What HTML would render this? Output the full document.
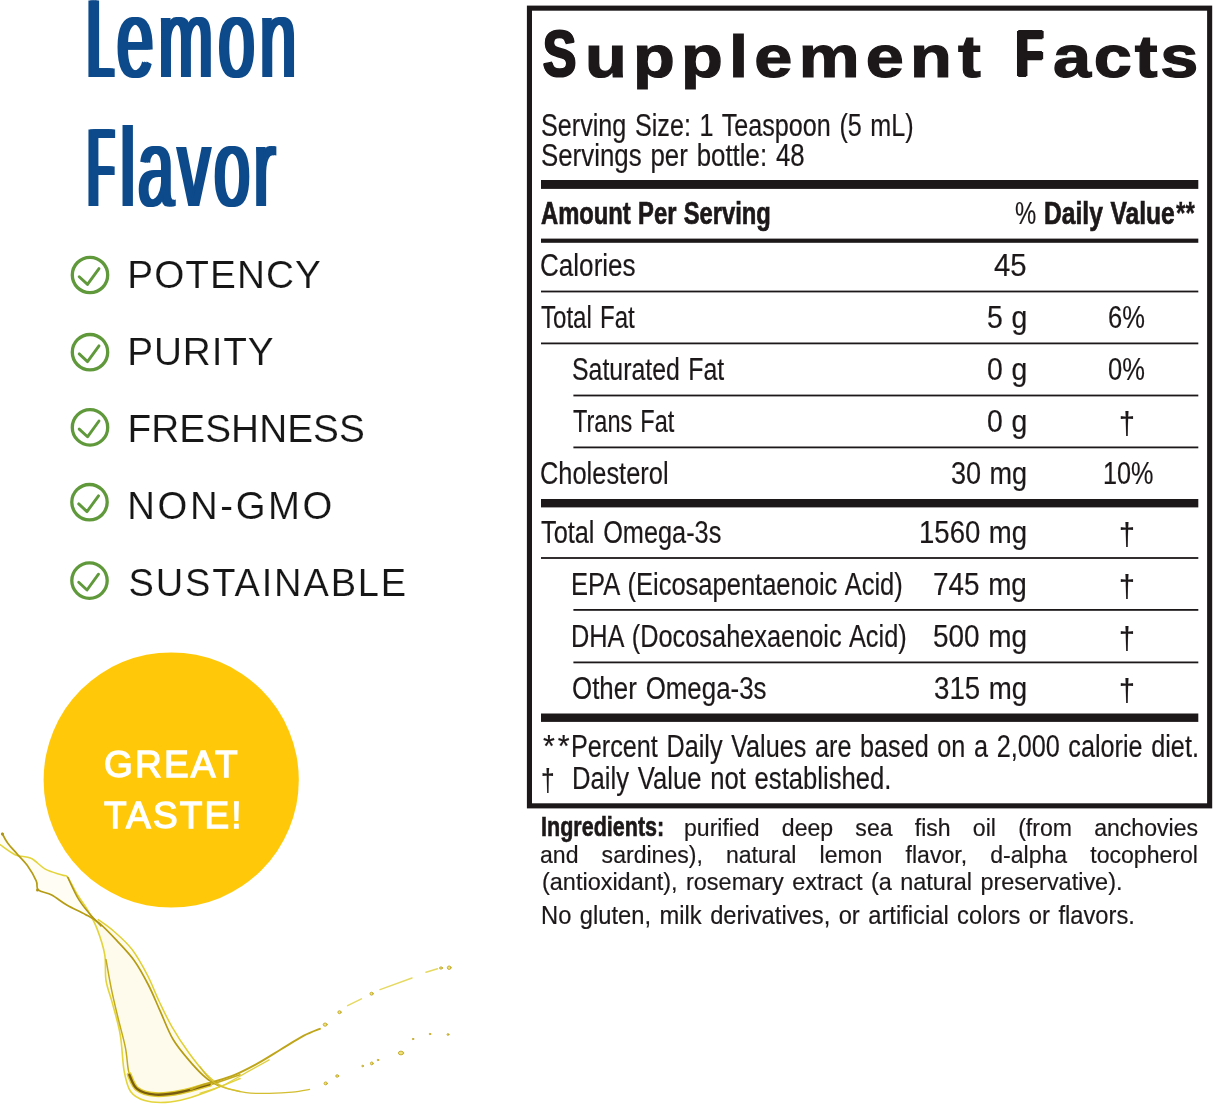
<!DOCTYPE html>
<html lang="en">
<head>
<meta charset="utf-8">
<title>Lemon Flavor - Supplement Facts</title>
<style>
*{margin:0;padding:0;box-sizing:border-box}
html,body{width:1214px;height:1106px;background:#fff;overflow:hidden}
body{position:relative;font-family:"Liberation Sans",Arial,sans-serif}
.t{position:absolute;white-space:pre;line-height:1;transform-origin:0 0;display:block}
svg{position:absolute;left:0;top:0}

</style>
</head>
<body>
<svg width="1214" height="1106" viewBox="0 0 1214 1106">
<g fill="none" stroke-linecap="round" stroke-linejoin="round">
<path d="M97.0 928.6C98.3 932.9 103.2 945.9 104.7 954.5C106.2 963.1 104.7 972.1 106.0 980.3C107.3 988.5 110.1 994.6 112.5 1003.6C114.9 1012.7 118.3 1023.4 120.2 1034.6C122.2 1045.8 122.4 1061.4 124.1 1070.8C125.9 1080.3 127.1 1086.6 130.6 1091.5C134.0 1096.5 139.0 1098.8 144.8 1100.6C150.6 1102.4 158.6 1102.7 165.5 1102.4C172.4 1102.1 178.0 1101.0 186.2 1098.8C194.4 1096.5 209.9 1090.6 214.6 1088.9L214.6 1081.2 L196.5 1063.1 L175.8 1034.6 L160.3 1006.2 L148.7 980.3 L134.5 954.5 L116.4 933.8 L98.3 919.6Z" fill="#fffbec" stroke="none"/>
<path d="M0.0 844.6C2.6 846.3 10.3 852.6 15.5 854.9C20.7 857.2 26.1 855.9 31.0 858.3C36.0 860.6 40.1 866.3 45.3 869.1C50.4 871.9 58.3 873.7 62.1 875.1C65.8 876.5 65.2 874.1 67.8 877.4C70.3 880.7 74.2 889.5 77.6 895.0C80.9 900.5 84.3 905.8 87.9 910.5C91.6 915.3 100.0 922.8 99.6 923.4C99.1 924.1 90.7 917.4 85.3 914.4C80.0 911.4 72.8 908.6 67.2 905.3C61.6 902.1 56.5 897.6 51.7 895.0C46.9 892.4 40.9 892.2 38.3 889.8C35.7 887.5 38.1 884.9 36.2 880.8C34.4 876.7 30.4 869.8 27.2 865.3C23.9 860.7 20.0 857.3 16.8 853.6C13.6 850.0 10.6 846.3 7.8 843.3C5.0 840.3 1.3 836.8 0.0 835.5Z" fill="#fffdf4" stroke="none"/>
<path d="M0.0 844.6C2.6 846.3 10.3 852.6 15.5 854.9C20.7 857.2 26.1 855.9 31.0 858.3C36.0 860.6 40.1 866.3 45.3 869.1C50.4 871.9 58.3 873.7 62.1 875.1C65.8 876.5 65.2 874.1 67.8 877.4C70.3 880.7 74.2 889.5 77.6 895.0C80.9 900.5 84.7 904.9 87.9 910.5C91.2 916.1 94.2 921.3 97.0 928.6C99.8 935.9 103.2 945.9 104.7 954.5C106.2 963.1 104.7 972.1 106.0 980.3C107.3 988.5 110.1 994.6 112.5 1003.6C114.9 1012.7 118.3 1023.4 120.2 1034.6C122.2 1045.8 122.4 1061.4 124.1 1070.8C125.9 1080.3 127.1 1086.6 130.6 1091.5C134.0 1096.5 139.0 1098.8 144.8 1100.6C150.6 1102.4 158.6 1102.7 165.5 1102.4C172.4 1102.1 178.0 1101.0 186.2 1098.8C194.4 1096.5 205.7 1092.3 214.6 1088.9C223.6 1085.6 235.8 1080.3 240.0 1078.6" stroke="#e3d43c" stroke-width="1.6"/>
<path d="M98.3 919.6C100.9 921.5 108.2 926.2 113.8 931.2C119.4 936.2 126.3 942.0 131.9 949.3C137.5 956.6 142.9 966.5 147.4 975.2C151.9 983.8 154.9 992.4 159.0 1001.0C163.1 1009.6 167.0 1018.3 172.0 1026.9C176.9 1035.5 183.0 1044.8 188.8 1052.7C194.6 1060.7 201.3 1069.1 206.9 1074.7C212.5 1080.3 216.9 1083.6 222.4 1086.4C227.9 1089.2 237.0 1090.7 240.0 1091.5" stroke="#e0d034" stroke-width="1.5"/>
<path d="M106.0 959.6C106.9 964.4 109.3 978.6 111.2 988.1C113.1 997.6 115.3 1006.6 117.7 1016.5C120.0 1026.4 123.6 1038.3 125.4 1047.6C127.3 1056.8 127.1 1065.5 128.8 1072.1C130.5 1078.8 131.8 1083.9 135.8 1087.6C139.7 1091.4 145.5 1094.0 152.6 1094.9C159.7 1095.8 169.4 1094.3 178.4 1092.8C187.5 1091.3 196.6 1088.9 206.9 1085.8C217.1 1082.8 234.5 1076.6 240.0 1074.7" stroke="#c4ab1c" stroke-width="1.5"/>
<path d="M2.1 833.4C3.0 835.1 5.3 839.9 7.8 843.3C10.2 846.6 13.6 850.0 16.8 853.6C20.0 857.3 23.9 860.7 27.2 865.3C30.4 869.8 34.4 876.7 36.2 880.8C38.1 884.9 35.7 887.5 38.3 889.8C40.9 892.2 46.9 892.4 51.7 895.0C56.5 897.6 61.6 902.1 67.2 905.3C72.8 908.6 80.0 911.4 85.3 914.4C90.7 917.4 94.4 919.1 99.6 923.4C104.7 927.7 110.6 934.0 116.4 940.2C122.2 946.5 129.1 953.4 134.5 960.9C139.9 968.5 144.4 977.1 148.7 985.5C153.0 993.9 156.2 1002.3 160.3 1011.4C164.4 1020.4 168.1 1031.2 173.3 1039.8C178.4 1048.4 185.8 1056.6 191.4 1063.1C197.0 1069.5 202.1 1074.7 206.9 1078.6C211.6 1082.5 217.7 1085.1 219.8 1086.4" stroke="#b59c14" stroke-width="1.7"/>
<path d="M67.8 877.4C69.4 880.8 74.2 891.8 77.6 897.6C80.9 903.3 84.0 907.1 87.9 911.8C91.8 916.5 98.7 923.7 100.9 926.0" stroke="#b09512" stroke-width="1.5"/>
<path d="M129.3 1074.7C130.6 1077.1 132.7 1085.6 137.1 1088.9C141.4 1092.3 147.8 1094.1 155.2 1094.6C162.5 1095.1 172.0 1093.8 181.0 1092.0C190.1 1090.3 204.7 1085.6 209.5 1084.3" stroke="#e0cc30" stroke-width="5"/>
<path d="M129.3 1074.7C130.6 1077.1 132.7 1085.6 137.1 1088.9C141.4 1092.3 147.8 1094.1 155.2 1094.6C162.5 1095.1 172.0 1093.8 181.0 1092.0C190.1 1090.3 204.7 1085.6 209.5 1084.3" stroke="#7a5c10" stroke-width="2.4"/>
<path d="M190.8 1089.4C192.3 1088.8 196.2 1087.0 200.0 1085.8C203.8 1084.5 208.1 1083.6 213.8 1081.8C219.6 1080.0 227.3 1078.0 234.6 1074.9C241.9 1071.8 250.0 1067.6 257.7 1063.4C265.3 1059.2 273.0 1054.2 280.7 1049.5C288.4 1044.9 297.2 1039.2 303.8 1035.7C310.3 1032.3 317.2 1029.9 319.9 1028.8" stroke="#bfa51a" stroke-width="1.9"/>
<path d="M200.0 1093.4C203.8 1092.0 215.4 1088.8 223.1 1085.3C230.8 1081.8 238.4 1076.8 246.1 1072.6C253.8 1068.4 265.3 1062.0 269.2 1059.9" stroke="#e0d040" stroke-width="1.2"/>
<path d="M200.0 1066.8C201.5 1068.8 205.8 1075.1 209.2 1078.4C212.7 1081.6 214.6 1084.1 220.8 1086.4C226.9 1088.8 238.1 1091.5 246.1 1092.7C254.2 1093.8 261.5 1093.4 269.2 1093.4C276.9 1093.3 285.5 1092.9 292.3 1092.2C299.0 1091.6 306.7 1089.9 309.5 1089.4" stroke="#d3bd30" stroke-width="1.3"/>
<path d="M347.6 1005.7L361.4 998.8" stroke="#e6d962" stroke-width="1.5"/>
<path d="M380 989.6L412 978" stroke="#e6d962" stroke-width="1.5"/>
<path d="M426 972.3L437.5 968.8" stroke="#e6d962" stroke-width="1.5"/>
<ellipse cx="325.2" cy="1024.6" rx="1.98" ry="1.61" fill="#efe27a" stroke="#bfa726" stroke-width="0.9"/>
<ellipse cx="339.5" cy="1012.2" rx="1.61" ry="1.49" fill="#efe27a" stroke="#bfa726" stroke-width="0.9"/>
<ellipse cx="371.6" cy="993.7" rx="1.61" ry="1.49" fill="#efe27a" stroke="#bfa726" stroke-width="0.9"/>
<ellipse cx="441" cy="968" rx="1.49" ry="1.12" fill="#efe27a" stroke="#bfa726" stroke-width="0.9"/>
<ellipse cx="449.2" cy="967.7" rx="1.86" ry="1.74" fill="#efe27a" stroke="#bfa726" stroke-width="0.9"/>
<ellipse cx="325.7" cy="1083.4" rx="1.61" ry="1.49" fill="#efe27a" stroke="#bfa726" stroke-width="0.9"/>
<ellipse cx="337.2" cy="1076" rx="1.49" ry="1.24" fill="#efe27a" stroke="#bfa726" stroke-width="0.9"/>
<ellipse cx="362.6" cy="1066" rx="0.87" ry="0.74" fill="#efe27a" stroke="#bfa726" stroke-width="0.9"/>
<ellipse cx="371.8" cy="1063.4" rx="1.36" ry="1.49" fill="#efe27a" stroke="#bfa726" stroke-width="0.9"/>
<ellipse cx="378" cy="1060" rx="0.81" ry="0.74" fill="#efe27a" stroke="#bfa726" stroke-width="0.9"/>
<ellipse cx="401" cy="1053" rx="2.60" ry="1.86" fill="#efe27a" stroke="#bfa726" stroke-width="0.9"/>
<ellipse cx="413" cy="1039" rx="0.74" ry="0.74" fill="#efe27a" stroke="#bfa726" stroke-width="0.9"/>
<ellipse cx="430" cy="1034" rx="0.81" ry="0.74" fill="#efe27a" stroke="#bfa726" stroke-width="0.9"/>
<ellipse cx="448" cy="1034.5" rx="0.93" ry="0.93" fill="#efe27a" stroke="#bfa726" stroke-width="0.9"/>
<circle cx="2.5" cy="834" r="1.6" fill="#b09512" stroke="none"/>
<circle cx="37.5" cy="890" r="1.5" fill="#b09512" stroke="none"/>
</g>
<circle cx="171.2" cy="780" r="127.6" fill="#ffc90a"/>
<g fill="none" stroke="#60993b" stroke-linecap="round" stroke-linejoin="round">
<circle cx="90.0" cy="275.0" r="17.7" stroke-width="3.3"/><path d="M79.2 276.7L87.5 284.4L99.0 268.6" stroke-width="2.9"/>
<circle cx="90.0" cy="352.2" r="17.7" stroke-width="3.3"/><path d="M79.2 353.9L87.5 361.6L99.0 345.8" stroke-width="2.9"/>
<circle cx="90.0" cy="427.4" r="17.7" stroke-width="3.3"/><path d="M79.2 429.1L87.5 436.8L99.0 421.0" stroke-width="2.9"/>
<circle cx="89.5" cy="502.2" r="17.7" stroke-width="3.3"/><path d="M78.7 503.9L87.0 511.6L98.5 495.8" stroke-width="2.9"/>
<circle cx="89.5" cy="580.6" r="17.7" stroke-width="3.3"/><path d="M78.7 582.3L87.0 590.0L98.5 574.2" stroke-width="2.9"/>
</g>
<rect x="529.45" y="8.15" width="680.2" height="797.7" fill="none" stroke="#1c1819" stroke-width="5.1"/>
<g fill="#1c1819">
<rect x="541.0" y="180.00" width="657.3" height="8.90"/>
<rect x="541.0" y="238.60" width="657.3" height="4.20"/>
<rect x="541.0" y="290.60" width="657.3" height="1.80"/>
<rect x="541.0" y="342.50" width="657.3" height="1.80"/>
<rect x="573.4" y="394.60" width="624.9" height="1.80"/>
<rect x="573.4" y="446.50" width="624.9" height="1.80"/>
<rect x="541.0" y="557.10" width="657.3" height="1.80"/>
<rect x="573.4" y="609.00" width="624.9" height="1.80"/>
<rect x="573.4" y="661.50" width="624.9" height="1.80"/>
<rect x="541.0" y="499.00" width="657.3" height="8.40"/>
<rect x="541.0" y="713.50" width="657.3" height="8.40"/>
</g>
</svg>
<span class="t" style="left:87.50px;top:-16.02px;font-size:110.61px;color:#0d4a8b;transform:scaleX(0.4052);text-shadow:4px 0 0 #0d4a8b,-4px 0 0 #0d4a8b,8px 0 0 #0d4a8b,-8px 0 0 #0d4a8b;">L</span><span class="t" style="left:116.84px;top:-16.02px;font-size:110.61px;color:#0d4a8b;letter-spacing:9.00px;transform:scaleX(0.5903);text-shadow:3.6px 0 0 #0d4a8b,-3.6px 0 0 #0d4a8b;">emon</span>
<span class="t" style="left:87.98px;top:112.98px;font-size:110.47px;color:#0d4a8b;transform:scaleX(0.3830);text-shadow:4px 0 0 #0d4a8b,-4px 0 0 #0d4a8b,8px 0 0 #0d4a8b,-8px 0 0 #0d4a8b;">F</span><span class="t" style="left:118.73px;top:112.98px;font-size:110.47px;color:#0d4a8b;transform:scaleX(0.7085);text-shadow:2.4px 0 0 #0d4a8b,-2.4px 0 0 #0d4a8b;">l</span><span class="t" style="left:138.02px;top:112.98px;font-size:110.47px;color:#0d4a8b;letter-spacing:7.00px;transform:scaleX(0.5819);text-shadow:3.6px 0 0 #0d4a8b,-3.6px 0 0 #0d4a8b;">avor</span>
<span class="t" style="left:127.24px;top:256.00px;font-size:38.74px;color:#161616;letter-spacing:1.08px;-webkit-text-stroke:0.15px #fff;">POTENCY</span>
<span class="t" style="left:127.24px;top:333.00px;font-size:38.74px;color:#161616;letter-spacing:0.87px;-webkit-text-stroke:0.15px #fff;">PURITY</span>
<span class="t" style="left:127.42px;top:410.00px;font-size:38.74px;color:#161616;letter-spacing:0.09px;-webkit-text-stroke:0.15px #fff;">FRESHNESS</span>
<span class="t" style="left:127.35px;top:486.99px;font-size:38.30px;color:#161616;letter-spacing:2.61px;-webkit-text-stroke:0.15px #fff;">NON-GMO</span>
<span class="t" style="left:128.48px;top:563.99px;font-size:38.01px;color:#161616;letter-spacing:1.87px;-webkit-text-stroke:0.15px #fff;">SUSTAINABLE</span>
<span class="t" style="left:104.00px;top:745.99px;font-size:37.50px;color:#ffffff;letter-spacing:2.20px;transform:scaleX(0.9887);-webkit-text-stroke:1.3px #ffffff;">GREAT</span>
<span class="t" style="left:104.00px;top:796.99px;font-size:37.65px;color:#ffffff;letter-spacing:2.20px;transform:scaleX(0.9834);-webkit-text-stroke:1.3px #ffffff;">TASTE!</span>
<span class="t" style="left:543.00px;top:21.98px;font-size:64.00px;font-weight:700;color:#1c1819;transform:scaleX(0.7762);-webkit-text-stroke:2.2px #1c1819;text-shadow:1.6px 0 0 #1c1819,-1.6px 0 0 #1c1819;">S</span><span class="t" style="left:584.80px;top:28.00px;font-size:59.00px;font-weight:700;color:#1c1819;letter-spacing:5.37px;transform:scaleX(1.1600);-webkit-text-stroke:1.2px #1c1819;">upplement</span>
<span class="t" style="left:1016.11px;top:21.98px;font-size:64.00px;font-weight:700;color:#1c1819;transform:scaleX(0.6980);-webkit-text-stroke:2.2px #1c1819;text-shadow:3px 0 0 #1c1819,-3px 0 0 #1c1819;">F</span><span class="t" style="left:1053.00px;top:28.00px;font-size:59.00px;font-weight:700;color:#1c1819;letter-spacing:2.38px;transform:scaleX(1.1600);-webkit-text-stroke:1.2px #1c1819;">acts</span>
<span class="t" style="left:540.50px;top:109.99px;font-size:31.00px;color:#1c1819;word-spacing:2.00px;transform:scaleX(0.8117);-webkit-text-stroke:0.2px #1c1819;">Serving Size: 1 Teaspoon (5 mL)</span>
<span class="t" style="left:540.50px;top:139.99px;font-size:31.00px;color:#1c1819;word-spacing:2.00px;transform:scaleX(0.8340);-webkit-text-stroke:0.2px #1c1819;">Servings per bottle: 48</span>
<span class="t" style="left:541.00px;top:197.99px;font-size:31.00px;font-weight:700;color:#1c1819;word-spacing:1.00px;transform:scaleX(0.7662);-webkit-text-stroke:0.7px #1c1819;">Amount Per Serving</span>
<span class="t" style="left:1015.01px;top:197.99px;font-size:31.00px;color:#1c1819;word-spacing:2.00px;transform:scaleX(0.7709);-webkit-text-stroke:0.2px #1c1819;">% </span><span class="t" style="left:1044.00px;top:197.99px;font-size:31.00px;font-weight:700;color:#1c1819;word-spacing:1.00px;transform:scaleX(0.7941);-webkit-text-stroke:0.7px #1c1819;">Daily Value</span><span class="t" style="left:1176.05px;top:197.99px;font-size:31.00px;font-weight:700;color:#1c1819;word-spacing:1.00px;transform:scaleX(0.7802);-webkit-text-stroke:0.3px #1c1819;">**</span>
<span class="t" style="left:540.00px;top:249.99px;font-size:31.00px;color:#1c1819;word-spacing:2.00px;transform:scaleX(0.8411);-webkit-text-stroke:0.2px #1c1819;">Calories</span>
<span class="t" style="left:994.31px;top:249.99px;font-size:31.00px;color:#1c1819;word-spacing:1.00px;transform:scaleX(0.9456);-webkit-text-stroke:0.2px #1c1819;">45</span>
<span class="t" style="left:541.00px;top:301.99px;font-size:31.00px;color:#1c1819;word-spacing:2.00px;transform:scaleX(0.7759);-webkit-text-stroke:0.2px #1c1819;">Total Fat</span>
<span class="t" style="left:986.50px;top:301.99px;font-size:31.00px;color:#1c1819;word-spacing:1.00px;transform:scaleX(0.9167);-webkit-text-stroke:0.2px #1c1819;">5 g</span>
<span class="t" style="left:1108.00px;top:301.99px;font-size:31.00px;color:#1c1819;word-spacing:2.00px;transform:scaleX(0.8246);-webkit-text-stroke:0.2px #1c1819;">6%</span>
<span class="t" style="left:572.00px;top:353.99px;font-size:31.00px;color:#1c1819;word-spacing:2.00px;transform:scaleX(0.8017);-webkit-text-stroke:0.2px #1c1819;">Saturated Fat</span>
<span class="t" style="left:986.50px;top:353.99px;font-size:31.00px;color:#1c1819;word-spacing:1.00px;transform:scaleX(0.9150);-webkit-text-stroke:0.2px #1c1819;">0 g</span>
<span class="t" style="left:1108.11px;top:353.99px;font-size:31.00px;color:#1c1819;word-spacing:2.00px;transform:scaleX(0.8232);-webkit-text-stroke:0.2px #1c1819;">0%</span>
<span class="t" style="left:573.00px;top:405.99px;font-size:31.00px;color:#1c1819;word-spacing:2.00px;transform:scaleX(0.7588);-webkit-text-stroke:0.2px #1c1819;">Trans Fat</span>
<span class="t" style="left:986.50px;top:405.99px;font-size:31.00px;color:#1c1819;word-spacing:1.00px;transform:scaleX(0.9150);-webkit-text-stroke:0.2px #1c1819;">0 g</span>
<span class="t" style="left:1119.03px;top:408.01px;font-size:31.00px;color:#1c1819;transform:scaleX(0.9211);-webkit-text-stroke:0.2px #1c1819;">†</span>
<span class="t" style="left:540.00px;top:457.99px;font-size:31.00px;color:#1c1819;word-spacing:2.00px;transform:scaleX(0.8198);-webkit-text-stroke:0.2px #1c1819;">Cholesterol</span>
<span class="t" style="left:950.55px;top:457.99px;font-size:31.00px;color:#1c1819;word-spacing:1.00px;transform:scaleX(0.8728);-webkit-text-stroke:0.2px #1c1819;">30 mg</span>
<span class="t" style="left:1102.87px;top:457.99px;font-size:31.00px;color:#1c1819;word-spacing:2.00px;transform:scaleX(0.8144);-webkit-text-stroke:0.2px #1c1819;">10%</span>
<span class="t" style="left:541.00px;top:516.99px;font-size:31.00px;color:#1c1819;word-spacing:2.00px;transform:scaleX(0.8166);-webkit-text-stroke:0.2px #1c1819;">Total Omega-3s</span>
<span class="t" style="left:919.00px;top:516.99px;font-size:31.00px;color:#1c1819;word-spacing:1.00px;transform:scaleX(0.8883);-webkit-text-stroke:0.2px #1c1819;">1560 mg</span>
<span class="t" style="left:1119.03px;top:519.01px;font-size:31.00px;color:#1c1819;transform:scaleX(0.9211);-webkit-text-stroke:0.2px #1c1819;">†</span>
<span class="t" style="left:571.00px;top:568.99px;font-size:31.00px;color:#1c1819;word-spacing:2.00px;transform:scaleX(0.8228);-webkit-text-stroke:0.2px #1c1819;">EPA (Eicosapentaenoic Acid)</span>
<span class="t" style="left:933.00px;top:568.99px;font-size:31.00px;color:#1c1819;word-spacing:1.00px;transform:scaleX(0.8989);-webkit-text-stroke:0.2px #1c1819;">745 mg</span>
<span class="t" style="left:1119.03px;top:571.01px;font-size:31.00px;color:#1c1819;transform:scaleX(0.9211);-webkit-text-stroke:0.2px #1c1819;">†</span>
<span class="t" style="left:571.00px;top:620.99px;font-size:31.00px;color:#1c1819;word-spacing:2.00px;transform:scaleX(0.8174);-webkit-text-stroke:0.2px #1c1819;">DHA (Docosahexaenoic Acid)</span>
<span class="t" style="left:933.00px;top:620.99px;font-size:31.00px;color:#1c1819;word-spacing:1.00px;transform:scaleX(0.9008);-webkit-text-stroke:0.2px #1c1819;">500 mg</span>
<span class="t" style="left:1119.03px;top:623.01px;font-size:31.00px;color:#1c1819;transform:scaleX(0.9211);-webkit-text-stroke:0.2px #1c1819;">†</span>
<span class="t" style="left:572.00px;top:672.99px;font-size:31.00px;color:#1c1819;word-spacing:2.00px;transform:scaleX(0.8353);-webkit-text-stroke:0.2px #1c1819;">Other Omega-3s</span>
<span class="t" style="left:934.04px;top:672.99px;font-size:31.00px;color:#1c1819;word-spacing:1.00px;transform:scaleX(0.8921);-webkit-text-stroke:0.2px #1c1819;">315 mg</span>
<span class="t" style="left:1119.03px;top:675.01px;font-size:31.00px;color:#1c1819;transform:scaleX(0.9211);-webkit-text-stroke:0.2px #1c1819;">†</span>
<span class="t" style="left:542.95px;top:730.99px;font-size:31.00px;color:#1c1819;letter-spacing:3.00px;word-spacing:2.00px;transform:scaleX(0.9812);-webkit-text-stroke:0.2px #1c1819;">**</span><span class="t" style="left:571.05px;top:730.99px;font-size:31.00px;color:#1c1819;word-spacing:2.00px;transform:scaleX(0.8131);-webkit-text-stroke:0.2px #1c1819;">Percent Daily Values are based on a 2,000 calorie diet.</span>
<span class="t" style="left:540.82px;top:765.00px;font-size:31.00px;color:#1c1819;transform:scaleX(0.7894);-webkit-text-stroke:0.2px #1c1819;">†</span>
<span class="t" style="left:571.50px;top:762.99px;font-size:31.00px;color:#1c1819;word-spacing:2.00px;transform:scaleX(0.8268);-webkit-text-stroke:0.2px #1c1819;">Daily Value not established.</span>
<span class="t" style="left:540.50px;top:812.99px;font-size:27.30px;font-weight:700;color:#1c1819;word-spacing:1.00px;transform:scaleX(0.7886);-webkit-text-stroke:0.6px #1c1819;">Ingredients:</span>
<span class="t" style="left:683.50px;top:815.99px;font-size:24.80px;color:#1c1819;word-spacing:17.00px;transform:scaleX(0.9300);-webkit-text-stroke:0.2px #1c1819;">purified deep sea fish oil (from anchovies</span>
<span class="t" style="left:540.17px;top:842.99px;font-size:24.80px;color:#1c1819;word-spacing:17.97px;transform:scaleX(0.9300);-webkit-text-stroke:0.2px #1c1819;">and sardines), natural lemon flavor, d-alpha tocopherol</span>
<span class="t" style="left:541.50px;top:869.99px;font-size:24.80px;color:#1c1819;word-spacing:2.00px;transform:scaleX(0.9460);-webkit-text-stroke:0.2px #1c1819;">(antioxidant), rosemary extract (a natural preservative).</span>
<span class="t" style="left:540.73px;top:902.00px;font-size:26.00px;color:#1c1819;word-spacing:2.00px;transform:scaleX(0.9133);-webkit-text-stroke:0.2px #1c1819;">No gluten, milk derivatives, or artificial colors or flavors.</span>
</body>
</html>
